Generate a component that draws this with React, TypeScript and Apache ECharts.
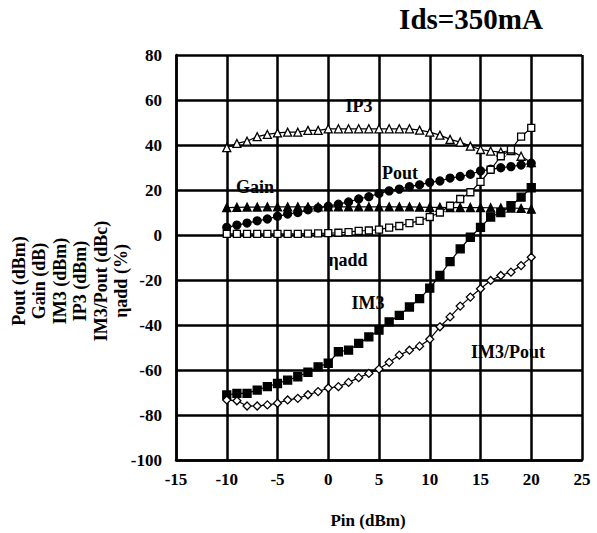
import React, { useEffect, useRef } from "react";
import * as echarts from "echarts";

const pin = [-10, -9, -8, -7, -6, -5, -4, -3, -2, -1, 0, 1, 2, 3, 4, 5, 6, 7, 8, 9, 10, 11, 12, 13, 14, 15, 16, 17, 18, 19, 20];
const ip3 = [38.8, 40.7, 41.7, 43.7, 44.7, 45.4, 45.7, 45.7, 46.5, 46.5, 47.2, 47.2, 47.2, 47.2, 47.2, 47.2, 47.2, 47.2, 47.2, 46.6, 45.7, 44.4, 42.5, 41.3, 39.5, 38, 37.3, 36.9, 37.5, 35, 32.2];
const gain = [12.2, 12.3, 12.4, 12.4, 12.5, 12.5, 12.5, 12.5, 12.5, 12.5, 12.5, 12.5, 12.5, 12.5, 12.5, 12.5, 12.5, 12.5, 12.5, 12.4, 12.3, 12.3, 12.2, 12.2, 12.2, 12.2, 12.1, 12, 12, 11.8, 11.5];
const pout = [3.4, 4.4, 5.3, 6.3, 7.1, 8.3, 9.3, 10, 11.2, 12, 12.8, 13.7, 14.7, 16, 17, 18.5, 19.6, 20.4, 21.5, 22.3, 23.4, 24, 25.3, 26, 27, 28.5, 29.2, 29.9, 30.4, 31.1, 31.9];
const etaAdd = [0.5, 0.5, 0.5, 0.5, 0.5, 0.5, 0.5, 0.5, 0.6, 0.7, 0.8, 1, 1.3, 1.8, 2, 2.4, 3.3, 4, 5.3, 6.3, 8, 10, 13, 16, 19, 23.6, 29, 35, 38, 43.7, 47.6];
const im3 = [-71.1, -70.4, -70.4, -68.9, -67.4, -66, -64.5, -63, -61, -58.6, -57, -51.9, -51.2, -48.2, -45.3, -42.3, -38.6, -35.7, -32, -28.3, -23.6, -18, -11.8, -6.2, -1, 3.4, 8, 10, 13, 16.8, 21];
const im3Pout = [-73.3, -73.7, -76, -76, -75.5, -74.8, -73.3, -72.6, -71, -69.6, -68, -67.4, -65.5, -63.4, -61.5, -59.6, -56.6, -53.4, -51.2, -49.4, -46.3, -40.8, -36.4, -31.6, -27.6, -23.9, -20.2, -18, -16.5, -13.6, -9.9];

const title = "Ids=350mA";
const xTitle = "Pin (dBm)";
const yTitleLines = ["Pout (dBm)", "Gain (dB)", "IM3 (dBm)", "IP3 (dBm)", "IM3/Pout (dBc)", "\u03b7add (%)"];

const FONT = "'Liberation Serif', 'Times New Roman', serif";

function mk(name: string, vals: number[], symbol: string, filled: boolean, size: number) {
  return {
    name,
    type: "line",
    data: pin.map((x, i) => [x, vals[i]]),
    symbol,
    symbolSize: size,
    showSymbol: true,
    lineStyle: { color: "#000", width: 1.2 },
    itemStyle: { color: filled ? "#000" : "#fff", borderColor: "#000", borderWidth: 1.3 },
    z: 3,
  };
}

export default function App() {
  const ref = useRef<HTMLDivElement>(null);
  useEffect(() => {
    if (!ref.current) return;
    const chart = echarts.init(ref.current, null, { renderer: "svg" });
    const lbl = (text: string, x: number, y: number, size = 18) => ({
      type: "text",
      x,
      y,
      style: { text, fontFamily: FONT, fontWeight: "bold", fontSize: size, fill: "#000", align: "center", verticalAlign: "middle" },
      z: 10,
    });
    chart.setOption({
      animation: false,
      backgroundColor: "#fff",
      grid: { left: 176, top: 55, right: 15, bottom: 73, containLabel: false },
      xAxis: {
        type: "value",
        min: -15,
        max: 25,
        interval: 5,
        axisLine: { show: true, onZero: false, lineStyle: { color: "#000", width: 2.5 } },
        axisTick: { show: false },
        splitLine: { show: true, lineStyle: { color: "#000", width: 2.5 } },
        axisLabel: { color: "#000", fontFamily: FONT, fontWeight: "bold", fontSize: 17, margin: 11 },
      },
      yAxis: {
        type: "value",
        min: -100,
        max: 80,
        interval: 20,
        axisLine: { show: true, onZero: false, lineStyle: { color: "#000", width: 2.5 } },
        axisTick: { show: false },
        splitLine: { show: true, lineStyle: { color: "#000", width: 2.5 } },
        axisLabel: { color: "#000", fontFamily: FONT, fontWeight: "bold", fontSize: 17, margin: 14 },
      },
      series: [
        mk("IP3", ip3, "triangle", false, 8),
        mk("Gain", gain, "triangle", true, 8),
        mk("Pout", pout, "circle", true, 8),
        mk("ηadd", etaAdd, "rect", false, 7),
        mk("IM3", im3, "rect", true, 8),
        mk("IM3/Pout", im3Pout, "diamond", false, 8),
      ],
      graphic: [
        lbl(title, 471, 19, 29),
        lbl(xTitle, 368, 520, 17),
        {
          type: "text",
          x: 70,
          y: 281,
          rotation: Math.PI / 2,
          style: {
            text: yTitleLines.join("\n"),
            fontFamily: FONT,
            fontWeight: "bold",
            fontSize: 18,
            lineHeight: 20.5,
            fill: "#000",
            align: "center",
            verticalAlign: "middle",
          },
        },
        lbl("IP3", 359, 106),
        lbl("Gain", 255, 187),
        lbl("Pout", 400, 173),
        lbl("\u03b7add", 348, 260),
        lbl("IM3", 368, 303),
        lbl("IM3/Pout", 508, 352),
      ],
    });
    return () => chart.dispose();
  }, []);
  return <div ref={ref} style={{ width: 597, height: 533, position: "absolute", left: 0, top: 0 }} />;
}
